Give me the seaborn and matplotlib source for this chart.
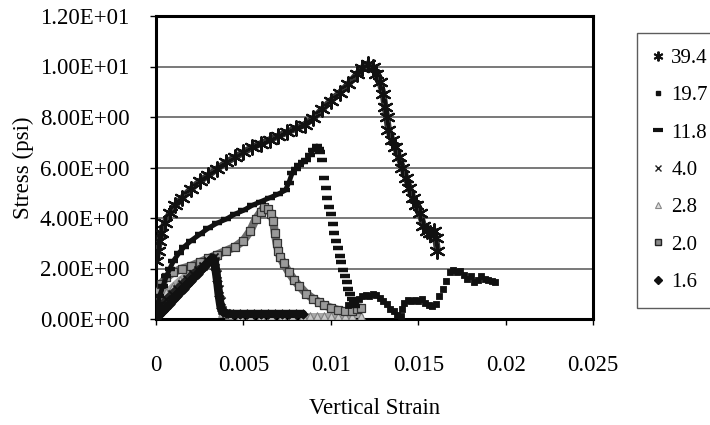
import numpy as np
import pandas as pd
import matplotlib
matplotlib.use("Agg")
import matplotlib.pyplot as plt
from matplotlib.ticker import FuncFormatter
from matplotlib.lines import Line2D
import seaborn as sns

# ---------------- data ----------------
series_labels = ["39.4", "19.7", "11.8", "4.0", "2.8", "2.0", "1.6"]

s394_x = [0.0000, 0.0001, 0.0002, 0.0003, 0.0005, 0.0008, 0.0011, 0.0015, 0.0020, 0.0025,
          0.0030, 0.0035, 0.0040, 0.0045, 0.0050, 0.0055, 0.0060, 0.0065, 0.0070, 0.0075,
          0.0080, 0.0085, 0.0090, 0.0095, 0.0100, 0.0105, 0.0110, 0.0115, 0.0118, 0.0121,
          0.0124, 0.0126, 0.0128, 0.0130, 0.0131, 0.0132, 0.0133, 0.0135, 0.0137, 0.0139,
          0.0141, 0.0143, 0.0145, 0.0147, 0.0149, 0.0151, 0.0153, 0.0155, 0.0157, 0.0159,
          0.0160, 0.0161]
s394_y = [2.3, 2.7, 3.1, 3.4, 3.8, 4.2, 4.5, 4.8, 5.15, 5.45,
          5.7, 5.95, 6.2, 6.4, 6.6, 6.8, 6.95, 7.1, 7.25, 7.4,
          7.55, 7.7, 7.95, 8.3, 8.65, 8.95, 9.3, 9.7, 9.95, 10.1,
          10.0, 9.7, 9.4, 8.9, 8.4, 8.0, 7.5, 7.1, 6.8, 6.4,
          6.0, 5.6, 5.2, 4.8, 4.5, 4.2, 3.7, 3.5, 3.4, 3.5,
          3.2, 2.7]

s118_x = [0.0000, 0.0001, 0.0002, 0.0004, 0.0006, 0.0008, 0.0010, 0.0013, 0.0016, 0.0020,
          0.0025, 0.0030, 0.0035, 0.0040, 0.0045, 0.0050, 0.0055, 0.0060, 0.0065, 0.0070,
          0.0074, 0.0076, 0.0078, 0.0080, 0.0082, 0.0084, 0.0086, 0.0088, 0.0090, 0.0092,
          0.0093, 0.0094, 0.0095, 0.0096, 0.0097, 0.0098, 0.0099, 0.0100, 0.0101, 0.0102,
          0.0103, 0.0104, 0.0105, 0.0106, 0.0107, 0.0108, 0.0109, 0.0110, 0.0111, 0.0112,
          0.0113, 0.0114]
s118_y = [0.2, 0.6, 0.9, 1.3, 1.7, 2.0, 2.3, 2.6, 2.85, 3.1,
          3.35, 3.6, 3.8, 3.95, 4.15, 4.3, 4.5, 4.65, 4.8, 4.95,
          5.1, 5.4, 5.8, 5.95, 6.1, 6.2, 6.3, 6.5, 6.7, 6.85,
          6.75, 6.6, 6.3, 5.6, 5.2, 4.8, 4.45, 4.15, 3.75, 3.4,
          3.1, 2.8, 2.5, 2.25, 1.95, 1.7, 1.45, 1.2, 1.0, 0.8,
          0.62, 0.5]

s197_x = [0.0110, 0.0112, 0.0114, 0.0116, 0.0118, 0.0120, 0.0122, 0.0124, 0.0126, 0.0128,
          0.0130, 0.0132, 0.0134, 0.0136, 0.0138, 0.0140, 0.0141, 0.0142, 0.0144, 0.0146,
          0.0148, 0.0150, 0.0152, 0.0154, 0.0156, 0.0158, 0.0160, 0.0162, 0.0164, 0.0166,
          0.0168, 0.0170, 0.0172, 0.0174, 0.0176, 0.0178, 0.0180, 0.0182, 0.0184, 0.0186,
          0.0188, 0.0190, 0.0192, 0.0194]
s197_y = [0.55, 0.6, 0.7, 0.8, 0.9, 0.95, 0.9, 1.0, 0.95, 0.85,
          0.7, 0.6, 0.4, 0.3, 0.15, 0.1, 0.4, 0.65, 0.75, 0.7,
          0.75, 0.7, 0.8, 0.65, 0.55, 0.5, 0.6, 0.9, 1.2, 1.5,
          1.85, 1.95, 1.85, 1.9, 1.75, 1.6, 1.7, 1.45, 1.55, 1.7,
          1.6, 1.55, 1.5, 1.45]

s40_x = [0.0000, 0.0003, 0.0006, 0.0009, 0.0012, 0.0015, 0.0018, 0.0021, 0.0024, 0.0027,
         0.0030, 0.0033, 0.0034, 0.0035, 0.0036, 0.0037, 0.0038, 0.0040, 0.0043, 0.0046,
         0.0050, 0.0054, 0.0058]
s40_y = [0.3, 0.55, 0.8, 1.0, 1.2, 1.4, 1.6, 1.8, 1.95, 2.1,
         2.3, 2.45, 2.3, 1.8, 1.2, 0.7, 0.35, 0.25, 0.2, 0.2,
         0.2, 0.18, 0.18]

s28_x = [0.0000, 0.0003, 0.0006, 0.0010, 0.0014, 0.0018, 0.0022, 0.0026, 0.0030, 0.0033,
         0.0034, 0.0035, 0.0036, 0.0037, 0.0038, 0.0042, 0.0048, 0.0054, 0.0060, 0.0066,
         0.0072, 0.0078, 0.0084, 0.0088, 0.0092, 0.0096, 0.0100, 0.0104, 0.0108, 0.0112,
         0.0117]
s28_y = [0.5, 0.8, 1.05, 1.3, 1.55, 1.75, 1.95, 2.15, 2.3, 2.45,
         2.2, 1.6, 1.0, 0.5, 0.25, 0.15, 0.12, 0.12, 0.1, 0.1,
         0.1, 0.1, 0.1, 0.1, 0.1, 0.1, 0.1, 0.1, 0.1, 0.1,
         0.1]

s20_x = [0.0000, 0.0001, 0.0003, 0.0006, 0.0010, 0.0015, 0.0020, 0.0025, 0.0030, 0.0035,
         0.0040, 0.0045, 0.0050, 0.0054, 0.0057, 0.0060, 0.0062, 0.0064, 0.0066, 0.0067,
         0.0068, 0.0069, 0.0070, 0.0071, 0.0073, 0.0076, 0.0079, 0.0082, 0.0086, 0.0090,
         0.0093, 0.0096, 0.0100, 0.0104, 0.0108, 0.0112, 0.0115, 0.0117]
s20_y = [0.7, 1.1, 1.4, 1.65, 1.85, 2.0, 2.1, 2.25, 2.4, 2.55,
         2.7, 2.85, 3.1, 3.5, 3.95, 4.25, 4.45, 4.35, 4.15, 3.9,
         3.4, 3.0, 2.7, 2.45, 2.2, 1.85, 1.55, 1.3, 1.0, 0.8,
         0.68, 0.55, 0.45, 0.36, 0.3, 0.32, 0.4, 0.45]

s16_x = [0.0000, 0.0002, 0.0004, 0.0006, 0.0008, 0.0010, 0.0012, 0.0014, 0.0016, 0.0018,
         0.0020, 0.0022, 0.0024, 0.0026, 0.0028, 0.0030, 0.0032, 0.0033, 0.0034, 0.0035,
         0.0036, 0.0037, 0.0038, 0.0040, 0.0044, 0.0048, 0.0052, 0.0056, 0.0060, 0.0064,
         0.0068, 0.0072, 0.0076, 0.0080, 0.0084]
s16_y = [0.0, 0.15, 0.3, 0.45, 0.6, 0.75, 0.9, 1.05, 1.2, 1.35,
         1.5, 1.65, 1.8, 1.95, 2.1, 2.25, 2.4, 2.35, 2.0, 1.5,
         0.9, 0.45, 0.3, 0.22, 0.2, 0.2, 0.2, 0.2, 0.2, 0.2,
         0.2, 0.2, 0.2, 0.2, 0.2]

x_ticks = [0, 0.005, 0.01, 0.015, 0.02, 0.025]
y_ticks = [0, 2, 4, 6, 8, 10, 12]

# ---------------- style ----------------
sns.set_theme(style="white")
plt.rcParams["font.family"] = ["Liberation Serif", "DejaVu Serif"]
plt.rcParams["font.size"] = 16.5

W, H = 710, 425
fig = plt.figure(figsize=(W / 100, H / 100), dpi=100)
ax = fig.add_axes([156 / W, 1 - 319 / H, (593 - 156) / W, (319 - 16) / H])

star = (6, 2, 0)


def df(x, y):
    return pd.DataFrame({"x": x, "y": y})


# 2.8 light gray triangles
d = df(s28_x, s28_y)
sns.lineplot(data=d, x="x", y="y", color="#a8a8a8", lw=5, sort=False, ax=ax, zorder=2)
sns.scatterplot(data=d, x="x", y="y", marker="^", s=30, color="#c8c8c8",
                edgecolor="#808080", linewidth=0.8, ax=ax, zorder=3)

# 2.0 gray squares
d = df(s20_x, s20_y)
sns.lineplot(data=d, x="x", y="y", color="#6e6e6e", lw=6, sort=False, ax=ax, zorder=2)
sns.scatterplot(data=d, x="x", y="y", marker="s", s=34, color="#9a9a9a",
                edgecolor="#333333", linewidth=0.9, ax=ax, zorder=3)

# 4.0 x markers
d = df(s40_x, s40_y)
sns.lineplot(data=d, x="x", y="y", color="#222222", lw=5, sort=False, ax=ax, zorder=4)
sns.scatterplot(data=d, x="x", y="y", marker="x", s=34, color="#111111",
                linewidth=1.3, ax=ax, zorder=4)

# 1.6 black diamonds
d = df(s16_x, s16_y)
sns.lineplot(data=d, x="x", y="y", color="#111111", lw=6, sort=False, ax=ax, zorder=4)
sns.scatterplot(data=d, x="x", y="y", marker="D", s=24, color="#111111",
                edgecolor="#111111", linewidth=0.5, ax=ax, zorder=4)

# 11.8 dashes (dense rise appears as a solid line)
d = df(s118_x, s118_y)
peak = int(np.argmax(s118_y))
sns.lineplot(data=d.iloc[:peak + 1], x="x", y="y", color="#111111", lw=3.5,
             sort=False, ax=ax, zorder=5)
sns.scatterplot(data=d, x="x", y="y", marker="_", s=44, color="#111111",
                linewidth=3.2, ax=ax, zorder=5)

# 19.7 small squares
d = df(s197_x, s197_y)
sns.scatterplot(data=d, x="x", y="y", marker="s", s=24, color="#111111",
                edgecolor="#111111", linewidth=0.6, ax=ax, zorder=5)

# 39.4 stars
d = df(s394_x, s394_y)
sns.lineplot(data=d, x="x", y="y", color="#333333", lw=5, sort=False, ax=ax, zorder=6)
sns.scatterplot(data=d, x="x", y="y", marker=star, s=110, color="#111111",
                linewidth=1.6, ax=ax, zorder=6)

# ---------------- axes ----------------
ax.set_xlim(0, 0.025)
ax.set_ylim(0, 12)
ax.set_xticks(x_ticks)
ax.set_yticks(y_ticks)
ax.xaxis.set_major_formatter(FuncFormatter(lambda v, p: f"{v:g}"))
ax.yaxis.set_major_formatter(FuncFormatter(lambda v, p: f"{v:.2E}"))
ax.grid(axis="y", color="#555555", lw=1.1)
ax.grid(axis="x", visible=False)
ax.set_axisbelow(True)
for sp in ax.spines.values():
    sp.set_visible(True)
    sp.set_color("black")
    sp.set_linewidth(2.2)
ax.tick_params(axis="both", which="major", length=4, width=1, color="black",
               direction="out", labelsize=16.5, labelcolor="black",
               bottom=True, left=True)
ax.tick_params(axis="y", pad=15)
ax.tick_params(axis="x", pad=22)
ax.set_xlabel("Vertical Strain", fontsize=16.5, color="black")
ax.set_ylabel("Stress (psi)", fontsize=16.5, color="black")
ax.yaxis.set_label_coords((23 - 156) / 437, 0.5)
ax.xaxis.set_label_coords(0.5, (319 - 408) / 303)
ax.xaxis.label.set_va("center")
ax.yaxis.label.set_va("center")

# ---------------- legend ----------------
handles = [
    Line2D([], [], ls="none", marker=star, ms=7, mec="#111111", mew=1.4),
    Line2D([], [], ls="none", marker="s", ms=3.5, mfc="#111111", mec="#111111"),
    Line2D([], [], ls="none", marker="_", ms=7, mec="#111111", mew=3),
    Line2D([], [], ls="none", marker="x", ms=5, mec="#222222", mew=1.0),
    Line2D([], [], ls="none", marker="^", ms=5, mfc="#dddddd", mec="#888888", mew=0.8),
    Line2D([], [], ls="none", marker="s", ms=5, mfc="#888888", mec="#222222", mew=1.0),
    Line2D([], [], ls="none", marker="D", ms=4.5, mfc="#111111", mec="#111111"),
]
leg = fig.legend(handles, series_labels, loc="upper left",
                 bbox_to_anchor=(637 / W, 1 - 33 / H), frameon=True,
                 fancybox=False, shadow=False, fontsize=15,
                 handlelength=0.55, handletextpad=0.35, labelspacing=0.85,
                 borderpad=0.75, borderaxespad=0)
leg.get_frame().set_edgecolor("#333333")
leg.get_frame().set_linewidth(1.0)
for t in leg.get_texts():
    t.set_color("black")

fig.savefig("out.png", dpi=100)
